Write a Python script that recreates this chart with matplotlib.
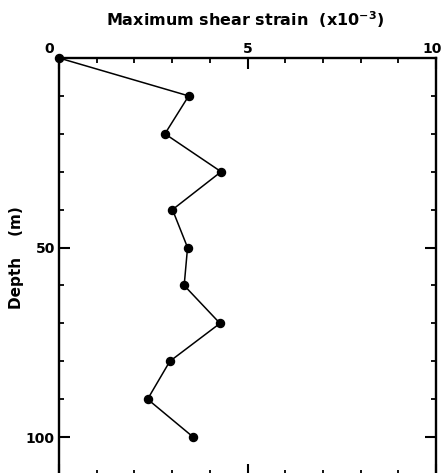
import matplotlib
matplotlib.use("Agg")
import matplotlib.pyplot as plt
import matplotlib.transforms as mtransforms
from matplotlib.ticker import MultipleLocator

depth_m = [0, 10, 20, 30, 40, 50, 60, 70, 80, 90, 100]
max_shear_strain = [0.0, 3.44, 2.81, 4.30, 3.01, 3.41, 3.32, 4.27, 2.94, 2.35, 3.56]
x_ticks = [0, 5, 10]
x_tick_labels = ["0", "5", "10"]
y_ticks = [50, 100]
y_tick_labels = ["50", "100"]

plt.rcParams['font.family'] = ['DejaVu Sans']
plt.rcParams['font.weight'] = 'bold'
plt.rcParams['mathtext.default'] = 'bf'

W, H = 444, 473
fig = plt.figure(figsize=(W / 100, H / 100), dpi=100)
left, right, top, bottom = 59, 436, 58, 475
ax = fig.add_axes([left / W, 1 - bottom / H, (right - left) / W, (bottom - top) / H])

ax.plot(max_shear_strain, depth_m, color='black', lw=1.1, marker='o',
        markersize=5.8, markerfacecolor='black', markeredgecolor='black',
        clip_on=False, zorder=3)

ax.set_xlim(0, 10)
ax.set_ylim(110, 0)

ax.xaxis.set_ticks_position('both')
ax.yaxis.set_ticks_position('both')
ax.tick_params(axis='x', which='both', labeltop=True, labelbottom=False)
ax.set_xticks(x_ticks)
ax.set_xticklabels(x_tick_labels)
ax.set_yticks(y_ticks)
ax.set_yticklabels(y_tick_labels)
ax.xaxis.set_minor_locator(MultipleLocator(1))
ax.yaxis.set_minor_locator(MultipleLocator(10))
ax.tick_params(which='major', direction='in', length=8, width=1.5, labelsize=10, pad=4)
ax.tick_params(axis='x', which='major', pad=1.5)
ax.tick_params(which='minor', direction='in', length=3.5, width=1.3)
ax.tick_params(axis='y', which='major', right=True, labelright=False, pad=3)

for lbl in ax.get_xticklabels() + ax.get_yticklabels():
    lbl.set_fontweight('bold')
xl = ax.get_xticklabels()
xl[0].set_transform(xl[0].get_transform() + mtransforms.ScaledTranslation(-0.10, 0, fig.dpi_scale_trans))
xl[2].set_transform(xl[2].get_transform() + mtransforms.ScaledTranslation(-0.04, 0, fig.dpi_scale_trans))

for s in ax.spines.values():
    s.set_linewidth(1.7)

fig.text(245 / W, 1 - 20 / H, "Maximum shear strain  (x10$^{-3}$)",
         ha='center', va='center', fontsize=11.5, fontweight='bold')
fig.text(16 / W, 1 - 258 / H, "Depth    (m)", rotation=90, ha='center', va='center',
         fontsize=11, fontweight='bold')

fig.savefig("out.png", dpi=100)
